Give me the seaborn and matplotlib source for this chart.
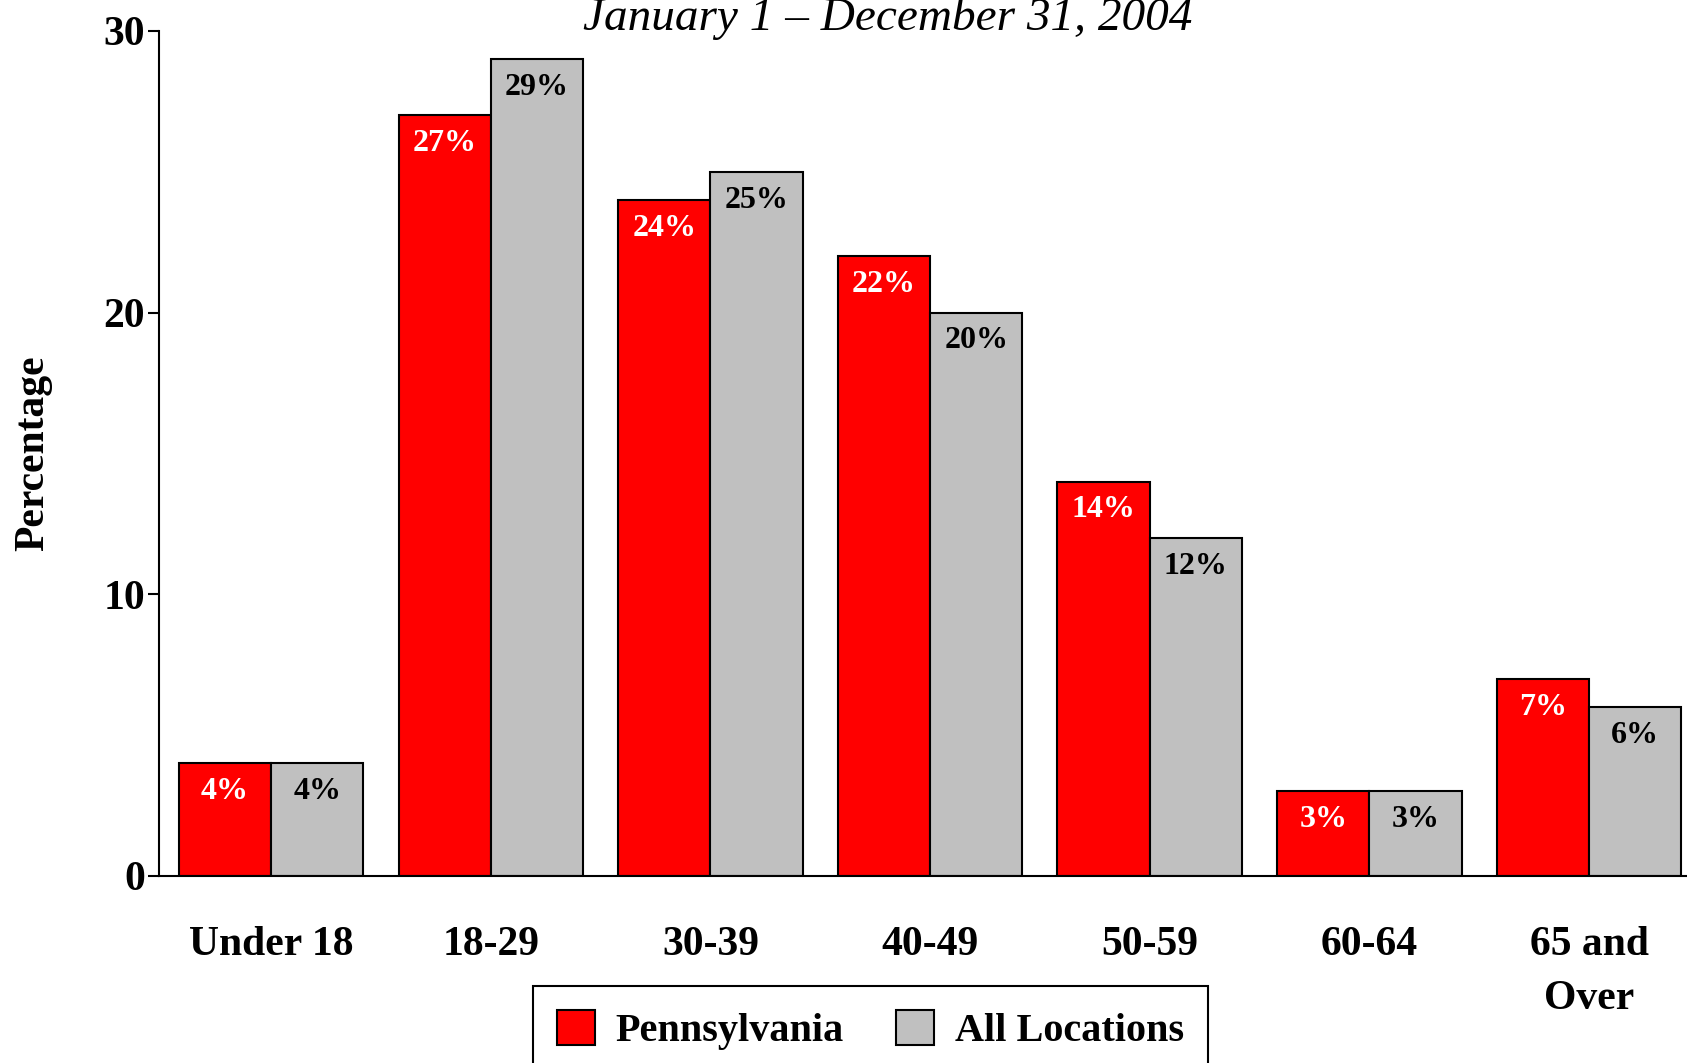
import pandas as pd
import matplotlib.pyplot as plt
import seaborn as sns

# Age group shares, 2004
age_groups = ["Under 18", "18-29", "30-39", "40-49", "50-59", "60-64", "65 and\nOver"]
pennsylvania = [4, 27, 24, 22, 14, 3, 7]
all_locations = [4, 29, 25, 20, 12, 3, 6]
series_names = ["Pennsylvania", "All Locations"]
series_colors = ["#FF0000", "#C0C0C0"]
label_colors = ["white", "black"]

df = pd.DataFrame({
    "age": age_groups * 2,
    "pct": pennsylvania + all_locations,
    "series": [series_names[0]] * len(age_groups) + [series_names[1]] * len(age_groups),
})

sns.set_style("white")
plt.rcParams['font.family'] = ['Liberation Serif', 'DejaVu Serif']
plt.rcParams['font.weight'] = 'bold'
plt.rcParams['text.color'] = 'black'
plt.rcParams['axes.labelcolor'] = 'black'
plt.rcParams['xtick.color'] = 'black'
plt.rcParams['ytick.color'] = 'black'

fig = plt.figure(figsize=(16.87, 10.63), dpi=100)
ax = fig.add_axes([0.0943, 0.176, 0.9057, 0.795])

sns.barplot(data=df, x="age", y="pct", hue="series", palette=series_colors,
            width=0.84, edgecolor="black", linewidth=1.5, saturation=1,
            order=age_groups, hue_order=series_names, ax=ax)

# value labels inside the top of each bar
for container, color in zip(ax.containers, label_colors):
    for bar in container:
        h = bar.get_height()
        ax.annotate(f"{h:.0f}%", (bar.get_x() + bar.get_width() / 2, h),
                    xytext=(0, -10), textcoords="offset points",
                    ha="center", va="top", fontsize=23, fontweight="bold",
                    color=color)

ax.set_ylim(0, 30)
ax.set_xlim(-0.51, 6.446)
ax.set_yticks([0, 10, 20, 30])
ax.set_ylabel("Percentage", fontsize=30, fontweight="bold", labelpad=37)
ax.set_xlabel("")
ax.tick_params(axis="y", length=8, width=1.5, labelsize=30, pad=2, left=True)
ax.tick_params(axis="x", length=0, labelsize=30, pad=36)
for lab in ax.get_xticklabels() + ax.get_yticklabels():
    lab.set_fontweight("bold")
    lab.set_linespacing(1.55)

sns.despine(ax=ax)
for s in ["left", "bottom"]:
    ax.spines[s].set_linewidth(1.5)
    ax.spines[s].set_color("black")

# subtitle sits partly above the canvas, as in the original
fig.text(0.526, 0.983, "January 1 \u2013 December 31, 2004", ha="center", va="center",
         fontsize=34, fontstyle="italic", fontweight="normal")

handles, labels = ax.get_legend_handles_labels()
ax.legend(handles, labels, loc="upper center", bbox_to_anchor=(0.516, 0.0724),
          bbox_transform=fig.transFigure, ncol=2, frameon=True,
          fancybox=False, edgecolor="black", framealpha=1, borderpad=0.6,
          handlelength=0.95, handleheight=0.95, handletextpad=0.5, columnspacing=1.3,
          borderaxespad=0, prop={"weight": "bold", "size": 29})
ax.get_legend().get_frame().set_linewidth(1.5)

fig.savefig("out.png", dpi=100)
